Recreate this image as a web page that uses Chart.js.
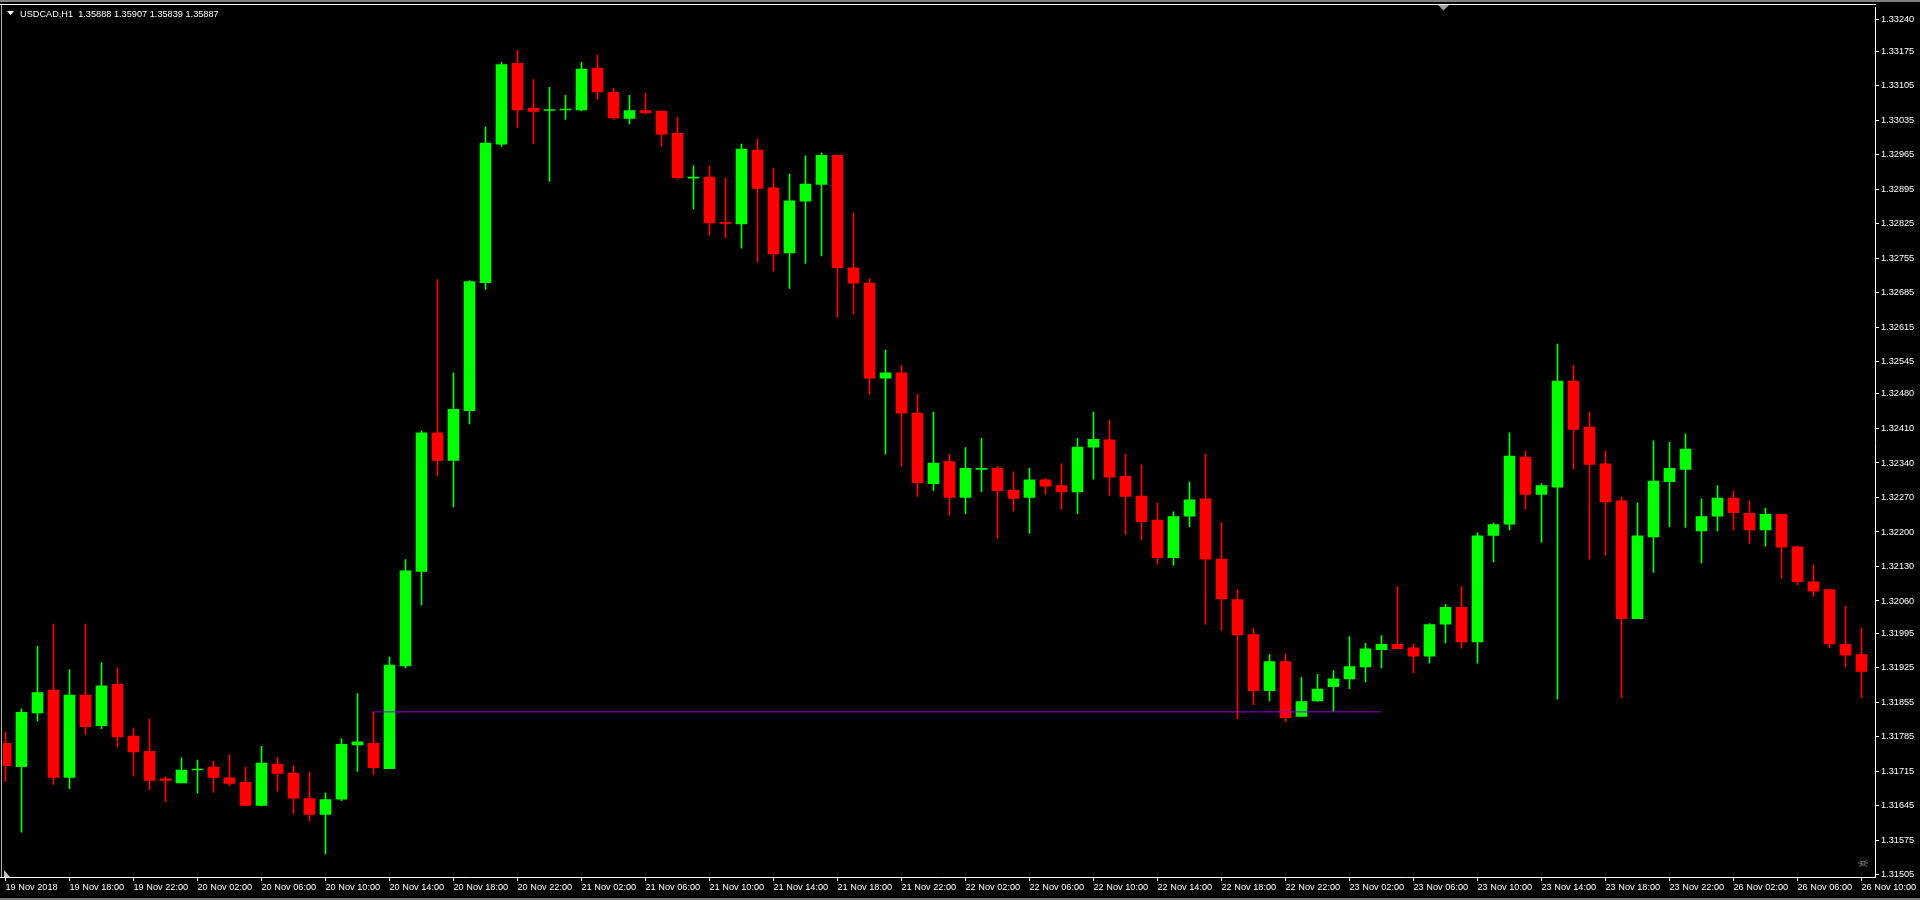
<!DOCTYPE html>
<html>
<head>
<meta charset="utf-8">
<title>USDCAD,H1</title>
<script src="https://cdn.jsdelivr.net/npm/chart.js@4.4.0/dist/chart.umd.min.js"></script>
<style>
  html, body { margin: 0; padding: 0; background: #000; overflow: hidden; }
  canvas { display: block; }
</style>
</head>
<body>
<canvas id="chart" width="1920" height="900"></canvas>
<script>
// header of the chart window
const symbol = "USDCAD,H1";
const lastQuote = ["1.35888", "1.35907", "1.35839", "1.35887"];

// hourly bars, 19 Nov 14:00 .. 26 Nov 10:00
const opens = [
  1.31771, 1.31724, 1.31833, 1.31879, 1.31702, 1.31869, 1.31807, 1.31891, 1.31786, 1.31755,
  1.31699, 1.31691, 1.31717, 1.31723, 1.31701, 1.31692, 1.31645, 1.31729, 1.31711, 1.31659,
  1.31627, 1.31658, 1.31768, 1.31771, 1.31720, 1.31928, 1.32120, 1.32401, 1.32345, 1.32446,
  1.32706, 1.32987, 1.33151, 1.33060, 1.33055, 1.33056, 1.33056, 1.33141, 1.33092, 1.33039,
  1.33055, 1.33054, 1.33009, 1.32918, 1.32920, 1.32828, 1.32825, 1.32975, 1.32898, 1.32766,
  1.32871, 1.32905, 1.32964, 1.32736, 1.32705, 1.32512, 1.32523, 1.32441, 1.32298, 1.32343,
  1.32270, 1.32327, 1.32329, 1.32285, 1.32270, 1.32306, 1.32294, 1.32281, 1.32372, 1.32387,
  1.32313, 1.32273, 1.32224, 1.32148, 1.32232, 1.32267, 1.32145, 1.32063, 1.31992, 1.31878,
  1.31937, 1.31826, 1.31857, 1.31886, 1.31902, 1.31926, 1.31961, 1.31972, 1.31965, 1.31948,
  1.32013, 1.32047, 1.31977, 1.32193, 1.32216, 1.32352, 1.32276, 1.32291, 1.32506, 1.32413,
  1.32338, 1.32263, 1.32024, 1.32190, 1.32302, 1.32327, 1.32202, 1.32232, 1.32269, 1.32238,
  1.32204, 1.32236, 1.32170, 1.32099, 1.32083, 1.31972, 1.31951
];
const highs = [
  1.31794, 1.31841, 1.31968, 1.32013, 1.31921, 1.32013, 1.31935, 1.31925, 1.31802, 1.31820,
  1.31703, 1.31742, 1.31737, 1.31735, 1.31748, 1.31723, 1.31765, 1.31743, 1.31726, 1.31713,
  1.31671, 1.31781, 1.31872, 1.31835, 1.31946, 1.32144, 1.32405, 1.32712, 1.32523, 1.32710,
  1.33022, 1.33153, 1.33177, 1.33118, 1.33102, 1.33086, 1.33153, 1.33167, 1.33100, 1.33086,
  1.33090, 1.33054, 1.33041, 1.32943, 1.32943, 1.32918, 1.32987, 1.32997, 1.32938, 1.32926,
  1.32963, 1.32969, 1.32964, 1.32847, 1.32714, 1.32569, 1.32538, 1.32479, 1.32443, 1.32358,
  1.32371, 1.32390, 1.32333, 1.32322, 1.32329, 1.32309, 1.32338, 1.32390, 1.32443, 1.32427,
  1.32358, 1.32336, 1.32259, 1.32241, 1.32301, 1.32358, 1.32219, 1.32083, 1.32004, 1.31951,
  1.31953, 1.31905, 1.31911, 1.31919, 1.31988, 1.31974, 1.31990, 1.32089, 1.31972, 1.32014,
  1.32053, 1.32089, 1.32198, 1.32218, 1.32401, 1.32364, 1.32298, 1.32581, 1.32538, 1.32443,
  1.32364, 1.32271, 1.32259, 1.32385, 1.32382, 1.32399, 1.32267, 1.32294, 1.32283, 1.32263,
  1.32248, 1.32236, 1.32172, 1.32133, 1.32083, 1.32049, 1.32006
];
const lows = [
  1.31694, 1.31591, 1.31816, 1.31688, 1.31679, 1.31789, 1.31801, 1.31764, 1.31705, 1.31677,
  1.31653, 1.31691, 1.31670, 1.31672, 1.31685, 1.31644, 1.31644, 1.31674, 1.31629, 1.31614,
  1.31547, 1.31655, 1.31714, 1.31708, 1.31720, 1.31924, 1.32052, 1.32314, 1.32251, 1.32419,
  1.32692, 1.32982, 1.33021, 1.32988, 1.32911, 1.33037, 1.33054, 1.33078, 1.33037, 1.33028,
  1.33048, 1.32982, 1.32916, 1.32855, 1.32802, 1.32797, 1.32776, 1.32748, 1.32729, 1.32694,
  1.32745, 1.32760, 1.32636, 1.32642, 1.32479, 1.32358, 1.32333, 1.32272, 1.32284, 1.32234,
  1.32237, 1.32282, 1.32187, 1.32242, 1.32197, 1.32276, 1.32246, 1.32237, 1.32307, 1.32274,
  1.32195, 1.32185, 1.32134, 1.32132, 1.32211, 1.32013, 1.32001, 1.31821, 1.31849, 1.31857,
  1.31815, 1.31826, 1.31856, 1.31836, 1.31882, 1.31896, 1.31924, 1.31963, 1.31914, 1.31934,
  1.31975, 1.31964, 1.31934, 1.32139, 1.32204, 1.32246, 1.32179, 1.31861, 1.32328, 1.32145,
  1.32153, 1.31864, 1.32024, 1.32118, 1.32211, 1.32209, 1.32137, 1.32202, 1.32204, 1.32177,
  1.32171, 1.32106, 1.32092, 1.32069, 1.31965, 1.31926, 1.31864
];
const closes = [
  1.31726, 1.31834, 1.31874, 1.31702, 1.31869, 1.31805, 1.31888, 1.31784, 1.31754, 1.31696,
  1.31696, 1.31717, 1.31719, 1.31702, 1.31690, 1.31645, 1.31731, 1.31710, 1.31660, 1.31627,
  1.31657, 1.31769, 1.31774, 1.31722, 1.31930, 1.32121, 1.32401, 1.32345, 1.32449, 1.32708,
  1.32989, 1.33148, 1.33056, 1.33053, 1.33057, 1.33057, 1.33139, 1.33093, 1.33040, 1.33055,
  1.33050, 1.33007, 1.32919, 1.32919, 1.32827, 1.32826, 1.32977, 1.32897, 1.32764, 1.32872,
  1.32906, 1.32964, 1.32736, 1.32705, 1.32512, 1.32523, 1.32441, 1.32300, 1.32340, 1.32270,
  1.32329, 1.32329, 1.32284, 1.32268, 1.32306, 1.32293, 1.32281, 1.32372, 1.32388, 1.32311,
  1.32272, 1.32221, 1.32148, 1.32231, 1.32265, 1.32145, 1.32064, 1.31991, 1.31878, 1.31937,
  1.31823, 1.31856, 1.31881, 1.31902, 1.31927, 1.31963, 1.31972, 1.31963, 1.31948, 1.32012,
  1.32047, 1.31977, 1.32192, 1.32215, 1.32354, 1.32276, 1.32294, 1.32506, 1.32408, 1.32337,
  1.32261, 1.32024, 1.32192, 1.32303, 1.32329, 1.32368, 1.32231, 1.32269, 1.32239, 1.32204,
  1.32236, 1.32169, 1.32099, 1.32080, 1.31973, 1.31950, 1.31917
];

// one time label every 4 bars
const timeLabels = [
  "19 Nov 2018", "19 Nov 18:00", "19 Nov 22:00", "20 Nov 02:00", "20 Nov 06:00", "20 Nov 10:00",
  "20 Nov 14:00", "20 Nov 18:00", "20 Nov 22:00", "21 Nov 02:00", "21 Nov 06:00", "21 Nov 10:00",
  "21 Nov 14:00", "21 Nov 18:00", "21 Nov 22:00", "22 Nov 02:00", "22 Nov 06:00", "22 Nov 10:00",
  "22 Nov 14:00", "22 Nov 18:00", "22 Nov 22:00", "23 Nov 02:00", "23 Nov 06:00", "23 Nov 10:00",
  "23 Nov 14:00", "23 Nov 18:00", "23 Nov 22:00", "26 Nov 02:00", "26 Nov 06:00", "26 Nov 10:00"
];
const priceTicks = [
  1.33240, 1.33175, 1.33105, 1.33035, 1.32965, 1.32895, 1.32825, 1.32755, 1.32685, 1.32615,
  1.32545, 1.32480, 1.32410, 1.32340, 1.32270, 1.32200, 1.32130, 1.32060, 1.31995, 1.31925,
  1.31855, 1.31785, 1.31715, 1.31645, 1.31575, 1.31505
];

// horizontal level drawn on the chart (bar index range)
const levelBars = [23, 86];
const levelPrice = 1.31835;

const UP = '#00ff00';
const DOWN = '#ff0000';
const FONT = { family: 'Liberation Sans', size: 9.2 };

const candleColors = closes.map((c, i) => c >= opens[i] ? UP : DOWN);
const bodies = opens.map((o, i) => ({ x: i, y: [o, closes[i]] }));
const wicks = highs.map((h, i) => ({ x: i, y: [lows[i], h] }));

// window decorations of the terminal
const mtFrame = {
  id: 'mtFrame',
  beforeDraw(chart) {
    const c = chart.ctx;
    c.save();
    c.fillStyle = '#000';
    c.fillRect(0, 0, chart.width, chart.height);
    c.restore();
  },
  afterDraw(chart) {
    const c = chart.ctx, a = chart.chartArea;
    c.save();
    c.fillStyle = '#808080';
    c.fillRect(0, 0, chart.width, 2);
    c.fillRect(0, chart.height - 2, chart.width, 2);
    c.fillStyle = '#b0b0b0';
    c.fillRect(1, 4, 1, a.bottom - 4);
    c.fillStyle = '#ffffff';
    c.fillRect(0, 4, a.right + 1, 1);
    c.fillRect(0, a.bottom, a.left + 1, 1);

    // shift marker at top
    c.fillStyle = '#a0a0a0';
    c.beginPath();
    c.moveTo(1438, 5); c.lineTo(1449, 5); c.lineTo(1443.5, 10.5);
    c.closePath(); c.fill();

    // small marker bottom left
    c.fillStyle = '#c0c0c0';
    c.beginPath();
    c.moveTo(4, 870); c.lineTo(4, 877); c.lineTo(10, 877);
    c.closePath(); c.fill();

    // header
    c.fillStyle = '#ffffff';
    c.beginPath();
    c.moveTo(7, 11); c.lineTo(14, 11); c.lineTo(10.5, 15);
    c.closePath(); c.fill();
    c.font = FONT.size + 'px ' + FONT.family;
    c.textBaseline = 'alphabetic';
    c.textAlign = 'left';
    c.fillText(symbol + '  ' + lastQuote.join(' '), 20, 17);

    // expert icon
    c.fillStyle = '#8a8a8a';
    c.font = '13px "DejaVu Sans"';
    c.textAlign = 'center';
    c.textBaseline = 'middle';
    c.fillText('\u2620', 1863, 864);
    c.restore();
  }
};

new Chart(document.getElementById('chart'), {
  type: 'bar',
  data: {
    datasets: [
      {
        type: 'line',
        data: levelBars.map(x => ({ x: x, y: levelPrice })),
        borderColor: '#9400d3',
        borderWidth: 1,
        pointRadius: 0,
        order: 0
      },
      {
        data: bodies,
        backgroundColor: candleColors,
        barThickness: 11,
        minBarLength: 1,
        grouped: false,
        borderWidth: 0,
        order: 1
      },
      {
        data: wicks,
        backgroundColor: candleColors,
        barThickness: 1,
        grouped: false,
        borderWidth: 0,
        order: 2
      }
    ]
  },
  options: {
    responsive: false,
    animation: false,
    devicePixelRatio: 1,
    layout: { padding: { left: 3, top: 5, right: 0, bottom: 0 } },
    plugins: { legend: { display: false }, tooltip: { enabled: false } },
    scales: {
      x: {
        type: 'linear',
        min: -0.15625,
        max: 116.84375,
        offset: false,
        afterBuildTicks: s => { s.ticks = timeLabels.map((_, k) => ({ value: k * 4 })); },
        afterFit: s => { s.height = 23; },
        grid: { drawOnChartArea: false, offset: false, tickLength: 4, tickColor: '#ffffff' },
        border: { color: '#ffffff', width: 1 },
        ticks: {
          color: '#ffffff', font: FONT, align: 'start', maxRotation: 0, autoSkip: false, padding: 1,
          callback: (v, i) => timeLabels[i]
        }
      },
      y: {
        position: 'right',
        min: 1.31500,
        max: 1.33264,
        afterBuildTicks: s => { s.ticks = priceTicks.map(v => ({ value: v })); },
        afterFit: s => { s.width = 45; },
        grid: { drawOnChartArea: false, tickLength: 4, tickColor: '#ffffff' },
        border: { color: '#ffffff', width: 1 },
        ticks: {
          color: '#ffffff', font: FONT, padding: 2, autoSkip: false,
          callback: v => v.toFixed(5)
        }
      }
    }
  },
  plugins: [mtFrame]
});
</script>
</body>
</html>
